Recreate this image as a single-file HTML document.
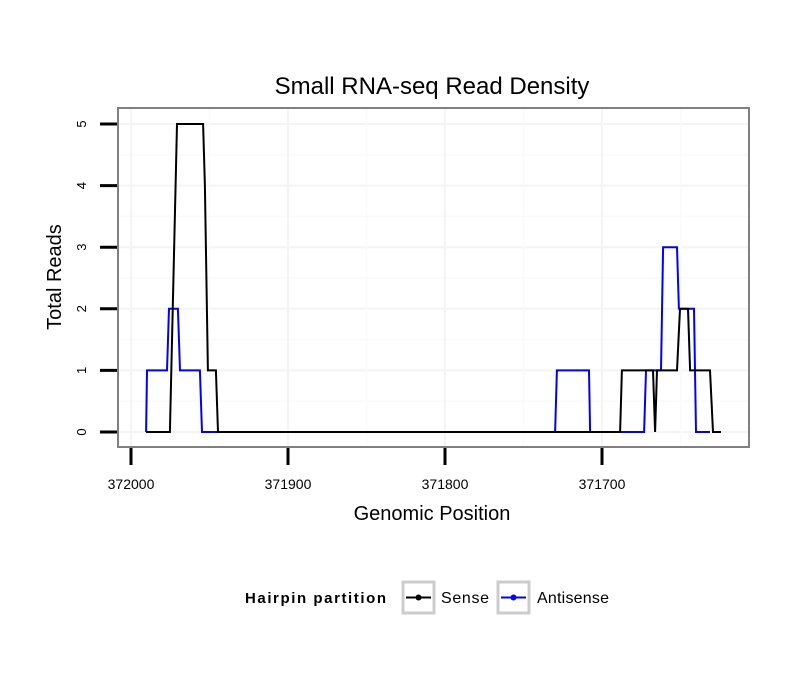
<!DOCTYPE html>
<html><head><meta charset="utf-8"><style>
body{margin:0;background:#fff;}
svg text{font-family:"Liberation Sans",sans-serif;}
</style></head><body>
<svg id="chart" width="810" height="690">
<text x="432" y="94" font-size="24" text-anchor="middle">Small RNA-seq Read Density</text>
<g id="grid"></g>
<g id="series"></g>
<rect x="118" y="108" width="631" height="339" fill="none" stroke="#808080" stroke-width="2"/>
<g id="axes"></g>
<text x="432" y="520" font-size="20" text-anchor="middle">Genomic Position</text>
<text transform="translate(61,277) rotate(-90)" font-size="20" text-anchor="middle">Total Reads</text>
<g>
<text x="245" y="603" font-size="15" font-weight="bold" textLength="141">Hairpin partition</text>
<g>
<rect x="403" y="582" width="31" height="31" fill="#fff" stroke="#ccc" stroke-width="3"/>
<line x1="406" y1="597.5" x2="431" y2="597.5" stroke="#000" stroke-width="2"/>
<circle cx="418.5" cy="597.5" r="3" fill="#000"/>
<text x="441" y="603" font-size="16" textLength="48">Sense</text></g>
<g>
<rect x="498" y="582" width="31" height="31" fill="#fff" stroke="#ccc" stroke-width="3"/>
<line x1="501" y1="597.5" x2="526" y2="597.5" stroke="#00f" stroke-width="2"/>
<circle cx="513.5" cy="597.5" r="3" fill="#00f"/>
<text x="537" y="603" font-size="16" textLength="72">Antisense</text></g>
</g>
</svg>
<script>
const xTicks=[372000,371900,371800,371700];
const yTicks=[0,1,2,3,4,5];
const senseX=[371990.4,371975.2,371970.7,371954.1,371952.9,371951.0,371945.9,371944.6,371688.5,371687.3,371667.5,371666.2,371665.0,371652.2,371650.3,371645.2,371643.9,371631.2,371629.3,371624.2];
const senseY=[0,0,5,5,4,1,1,0,0,1,1,0,1,1,2,2,1,1,0,0];
const antiX=[371990.4,371989.8,371977.1,371975.8,371970.1,371968.8,371956.1,371954.8,371944.6,371729.9,371728.7,371708.3,371707.6,371673.2,371672.0,371662.4,371661.1,371652.2,371651.0,371641.4,371640.1,371631.2];
const antiY=[0,1,1,2,2,1,1,0,0,0,1,1,0,0,1,1,3,3,2,2,0,0];
const NS="http://www.w3.org/2000/svg";
const sx=v=>131+(372000-v)*1.57;
const sy=v=>432-v*61.6;
function mk(tag,attrs,parent){const e=document.createElementNS(NS,tag);for(const k in attrs)e.setAttribute(k,attrs[k]);parent.appendChild(e);return e;}
const grid=document.getElementById('grid'),axes=document.getElementById('axes'),series=document.getElementById('series');
for(let i=-0.5;i<=5.5;i+=0.5){const y=sy(i);if(y<109||y>446)continue;
 const l=mk('line',{x1:119,x2:748,y1:y,y2:y,stroke:Number.isInteger(i)?'#f4f4f4':'#fafafa','stroke-width':Number.isInteger(i)?2:1.5},grid);
 
 }
for(let v=372050;v>=371600;v-=50){const x=sx(v);if(x<119||x>748)continue;
 const l=mk('line',{x1:x,x2:x,y1:109,y2:446,stroke:v%100===0?'#f4f4f4':'#fafafa','stroke-width':v%100===0?2:1.5},grid);
 
 }
yTicks.forEach(t=>{const y=sy(t);
 const l=mk('line',{x1:100,x2:117,y1:y,y2:y,stroke:'#000','stroke-width':3},axes);
 
 
 const tx=mk('text',{transform:`translate(86,${y}) rotate(-90)`,'font-size':13,'text-anchor':'middle'},axes);tx.textContent=t;
 
 });
xTicks.forEach(t=>{const x=sx(t);
 const l=mk('line',{x1:x,x2:x,y1:448,y2:465,stroke:'#000','stroke-width':3},axes);
 
 
 const tx=mk('text',{x:x,y:489,'font-size':14,'text-anchor':'middle'},axes);tx.textContent=t;
 
 });
function draw(xs,ys,color,name){const d=xs.map((v,i)=>(i?'L':'M')+sx(v).toFixed(1)+','+sy(ys[i]).toFixed(1)).join(' ');
 const p=mk('path',{d:d,fill:'none',stroke:color,'stroke-width':2},series);
 
 }
draw(antiX,antiY,'#0000ff','antisense-line');
draw(senseX,senseY,'#000000','sense-line');
</script>
</body></html>
